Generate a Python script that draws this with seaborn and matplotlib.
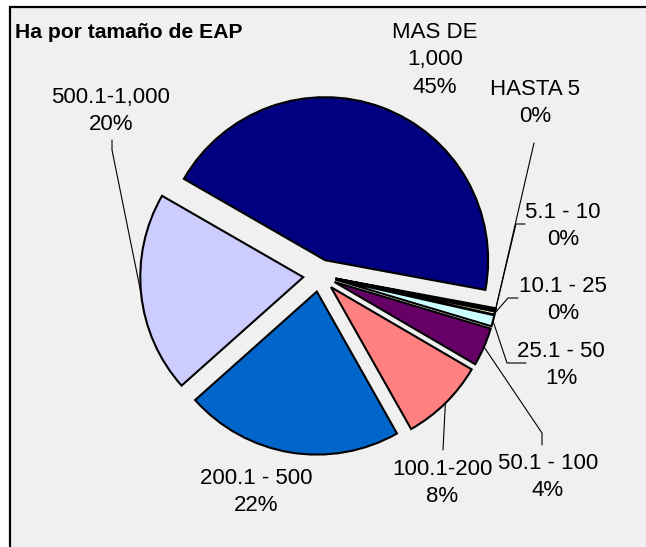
import matplotlib
matplotlib.use("Agg")
import matplotlib.pyplot as plt
import seaborn as sns
import numpy as np
from matplotlib.patches import Rectangle

W, H = 646, 547

# ---- data ----
categories = ["HASTA 5", "5.1 - 10", "10.1 - 25", "25.1 - 50", "50.1 - 100",
              "100.1-200", "200.1 - 500", "500.1-1,000", "MAS DE\n1,000"]
shares = [0.15, 0.15, 0.3, 1.1, 3.8, 8.4, 21.6, 19.9, 44.6]
colors = ["#9999FF", "#993366", "#FFFFCC", "#CCFFFF", "#660066",
          "#FF8080", "#0066CC", "#CCCCFF", "#000080"]

# label centres and leader elbows, in pixels from the top-left corner
label_pos = [(535, 103), (563, 226), (563, 300), (561, 365), (548, 477),
             (442, 483), (256, 492), (111, 111), (435, 60)]
leaders = [[(534, 143)], [(516, 224), (525, 224)], [(508, 298), (518, 298)],
           [(507, 363), (526, 363)], [(542, 433), (542, 445)], [(443, 450)],
           None, [(112, 150), (112, 140)], None]


def px(x, y):
    return x, H - y


sns.set_style("white")
plt.rcParams["font.family"] = ["Liberation Sans", "DejaVu Sans"]

fig = plt.figure(figsize=(W / 100, H / 100), dpi=100)
fig.patch.set_facecolor("#F0F0F0")
ax = fig.add_axes([0, 0, 1, 1])
ax.set_facecolor("#F0F0F0")

cx, cy = px(319.5, 275.5)
R = 163
wedges, _ = ax.pie(shares, colors=sns.color_palette(colors), startangle=-10.5,
                   counterclock=False, radius=R, center=(cx, cy),
                   explode=[0.1 * R] * len(shares),
                   wedgeprops=dict(edgecolor="black", linewidth=1.5))

# white margin above and left of the chart area, then its two borders
ax.add_patch(Rectangle(px(0, H + 5), 10, H + 10, facecolor="white",
                       edgecolor="none", zorder=0))
ax.add_patch(Rectangle(px(-5, 7), W + 10, 12, facecolor="white",
                       edgecolor="none", zorder=0))
ax.plot(*zip(px(10, H + 5), px(10, 7), px(W + 5, 7)), color="black",
        linewidth=1.6, zorder=1, solid_joinstyle="miter")

total = sum(shares)
for i, w in enumerate(wedges):
    w.set_zorder(2)
    pct = shares[i] / total * 100
    x, y = px(*label_pos[i])
    ax.text(x, y, f"{categories[i]}\n{pct:.0f}%", ha="center", va="center",
            fontsize=16, linespacing=1.39, color="black", zorder=4)
    if leaders[i] is not None:
        mid = np.deg2rad((w.theta1 + w.theta2) / 2)
        x0 = w.center[0] + R * np.cos(mid)
        y0 = w.center[1] + R * np.sin(mid)
        pts = [(x0, y0)] + [px(a, b) for a, b in leaders[i]]
        xs, ys = zip(*pts)
        ax.plot(xs, ys, color="black", linewidth=0.8, zorder=3)

ax.text(*px(15, 32), "Ha por tamaño de EAP", ha="left", va="center",
        fontsize=15.2, fontweight="bold", color="black", zorder=4)

ax.set_aspect("auto")
ax.set_xlim(0, W)
ax.set_ylim(0, H)
for s in ax.spines.values():
    s.set_visible(False)
ax.set_xticks([])
ax.set_yticks([])

fig.savefig("out.png", dpi=100, facecolor="#F0F0F0")
